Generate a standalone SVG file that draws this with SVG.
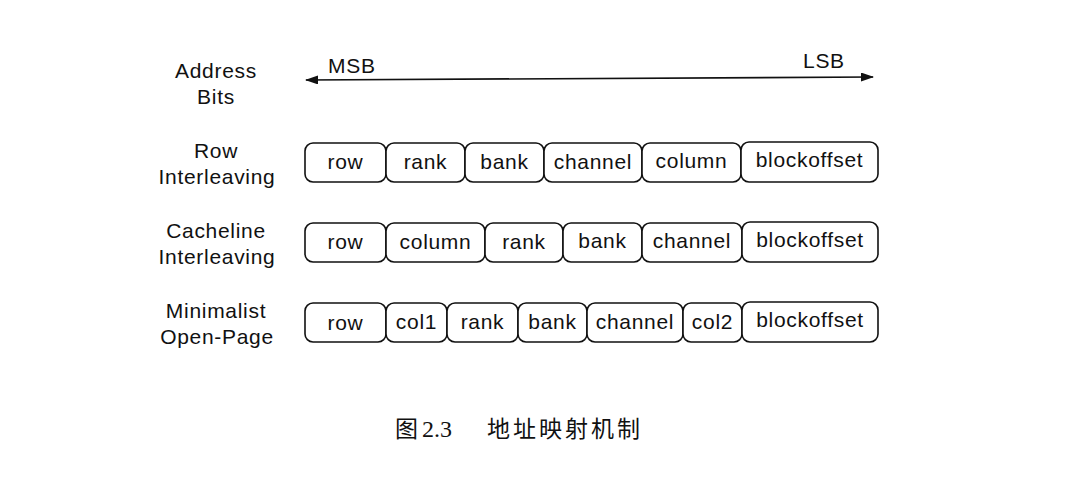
<svg xmlns="http://www.w3.org/2000/svg" width="1079" height="479" viewBox="0 0 1079 479">
<style>
.t{font-family:"Liberation Sans",Arial,sans-serif;font-size:21px;fill:#111;letter-spacing:0.7px}
.c{text-anchor:middle}
.b{fill:#fff;stroke:#111;stroke-width:1.6}
.cap{font-family:"Liberation Serif","Noto Sans CJK SC",serif;font-size:23px;fill:#111}
</style>
<defs>
<marker id="ah" markerWidth="13" markerHeight="9" refX="12" refY="4.5" orient="auto-start-reverse" markerUnits="userSpaceOnUse">
<path d="M0,0 L13,4.5 L0,9 Z" fill="#111"/>
</marker>
</defs>
<rect width="1079" height="479" fill="#fff"/>
<g id="labels">
<text class="t c" x="216" y="78">Address</text>
<text class="t c" x="216" y="104">Bits</text>
<text class="t c" x="216" y="158">Row</text>
<text class="t c" x="217" y="184">Interleaving</text>
<text class="t c" x="216" y="238">Cacheline</text>
<text class="t c" x="217" y="264">Interleaving</text>
<text class="t c" x="216" y="318">Minimalist</text>
<text class="t c" x="217" y="344">Open-Page</text>
</g>
<g id="connectors">
<line x1="306" y1="80" x2="873" y2="77" stroke="#111" stroke-width="1.6" marker-start="url(#ah)" marker-end="url(#ah)"/>
</g>
<g id="msb"><text class="t" x="328" y="73">MSB</text></g>
<g id="lsb"><text class="t" x="803" y="68">LSB</text></g>
<g id="row1">
<g id="r1-row"><rect class="b" x="305" y="143" width="81" height="39" rx="8"/><text class="t c" x="345.5" y="169">row</text></g>
<g id="r1-rank"><rect class="b" x="386" y="143" width="79" height="39" rx="8"/><text class="t c" x="425.5" y="169">rank</text></g>
<g id="r1-bank"><rect class="b" x="465" y="143" width="79" height="39" rx="8"/><text class="t c" x="504.5" y="169">bank</text></g>
<g id="r1-channel"><rect class="b" x="544" y="143" width="98" height="39" rx="8"/><text class="t c" x="593" y="169">channel</text></g>
<g id="r1-column"><rect class="b" x="642" y="143" width="99" height="39" rx="8"/><text class="t c" x="691.5" y="168">column</text></g>
<g id="r1-blockoffset"><rect class="b" x="741" y="142" width="137" height="40" rx="8"/><text class="t c" x="809.5" y="167">blockoffset</text></g>
</g>
<g id="row2">
<g id="r2-row"><rect class="b" x="305" y="223" width="81" height="39" rx="8"/><text class="t c" x="345.5" y="249">row</text></g>
<g id="r2-column"><rect class="b" x="386" y="223" width="99" height="39" rx="8"/><text class="t c" x="435.5" y="249">column</text></g>
<g id="r2-rank"><rect class="b" x="485" y="223" width="78" height="39" rx="8"/><text class="t c" x="524" y="249">rank</text></g>
<g id="r2-bank"><rect class="b" x="563" y="223" width="79" height="39" rx="8"/><text class="t c" x="602.5" y="248">bank</text></g>
<g id="r2-channel"><rect class="b" x="642" y="223" width="100" height="39" rx="8"/><text class="t c" x="692" y="248">channel</text></g>
<g id="r2-blockoffset"><rect class="b" x="742" y="222" width="136" height="40" rx="8"/><text class="t c" x="810" y="247">blockoffset</text></g>
</g>
<g id="row3">
<g id="r3-row"><rect class="b" x="305" y="303" width="81" height="39" rx="8"/><text class="t c" x="345.5" y="330">row</text></g>
<g id="r3-col1"><rect class="b" x="386" y="303" width="61" height="39" rx="8"/><text class="t c" x="416.5" y="329">col1</text></g>
<g id="r3-rank"><rect class="b" x="447" y="303" width="71" height="39" rx="8"/><text class="t c" x="482.5" y="329">rank</text></g>
<g id="r3-bank"><rect class="b" x="518" y="303" width="69" height="39" rx="8"/><text class="t c" x="552.5" y="329">bank</text></g>
<g id="r3-channel"><rect class="b" x="587" y="303" width="96" height="39" rx="8"/><text class="t c" x="635" y="329">channel</text></g>
<g id="r3-col2"><rect class="b" x="683" y="303" width="59" height="39" rx="8"/><text class="t c" x="712.5" y="329">col2</text></g>
<g id="r3-blockoffset"><rect class="b" x="742" y="302" width="136" height="40" rx="8"/><text class="t c" x="810" y="327">blockoffset</text></g>
</g>
<g id="caption">
<text class="cap" x="395" y="437"><tspan>图</tspan><tspan x="422" font-size="24">2.3</tspan></text>
<text class="cap" x="487" y="437" letter-spacing="3">地址映射机制</text>
</g>
</svg>
